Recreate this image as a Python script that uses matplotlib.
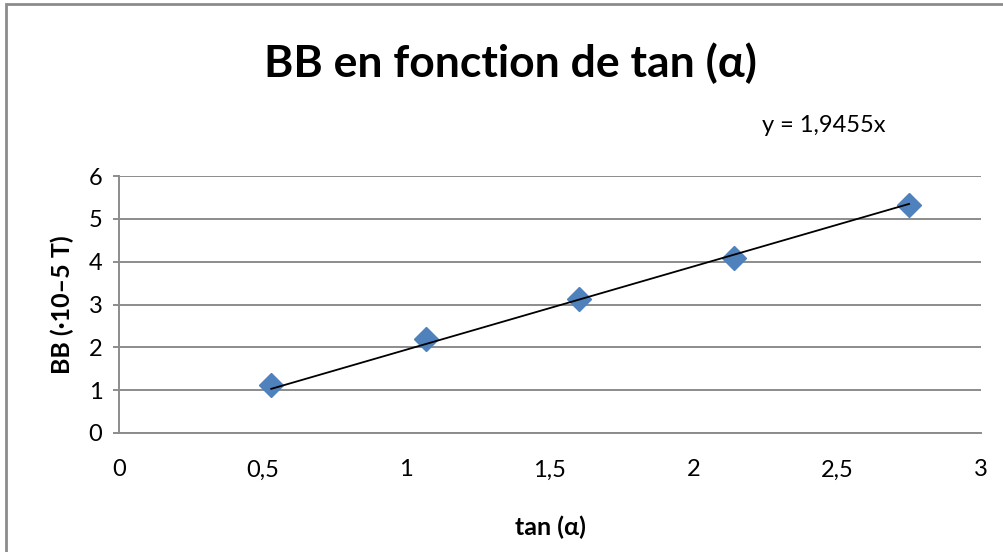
import matplotlib.pyplot as plt
import numpy as np
from matplotlib.patches import Rectangle
from matplotlib.ticker import FuncFormatter, MultipleLocator

# data
tan_alpha = [0.53, 1.07, 1.6, 2.14, 2.75]
bb = [1.11, 2.2, 3.14, 4.08, 5.33]
slope = 1.9455

plt.rcParams['font.family'] = ['Lato', 'DejaVu Sans']

fig = plt.figure(figsize=(10.04, 5.52), dpi=100)
ax = fig.add_axes([0.1185, 0.2156, 0.8585, 0.4654])

grid_col = '#8c8c8c'
ax.plot(tan_alpha, bb, linestyle='none', marker='D', markersize=12,
        color='#4F81BD', zorder=3)
x_fit = np.array([tan_alpha[0], tan_alpha[-1]])
ax.plot(x_fit, slope * x_fit, color='black', lw=1.3, zorder=4)

ax.set_xlim(0, 3)
ax.set_ylim(0, 6)
ax.xaxis.set_major_locator(MultipleLocator(0.5))
ax.yaxis.set_major_locator(MultipleLocator(1))
comma = FuncFormatter(lambda v, _: ('%g' % v).replace('.', ','))
ax.xaxis.set_major_formatter(comma)
ax.yaxis.set_major_formatter(comma)

ax.grid(axis='y', color=grid_col, lw=1.4)
ax.set_axisbelow(True)
for s in ['top', 'right']:
    ax.spines[s].set_visible(False)
for s in ['left', 'bottom']:
    ax.spines[s].set_color(grid_col)
    ax.spines[s].set_linewidth(1.4)
ax.tick_params(axis='y', length=4, color=grid_col, width=1.4, labelsize=17, pad=8)
ax.tick_params(axis='x', length=0, labelsize=17, pad=19)

ax.set_xlabel('tan (α)', fontsize=18, fontweight='bold', labelpad=25)
ax.set_ylabel('BB (·10–5 T)', fontsize=18, fontweight='bold', labelpad=10)

fig.text(0.508, 0.885, 'BB en fonction de tan (α)', ha='center', va='center',
         fontsize=32, fontweight='bold')
fig.text(0.759, 0.773, 'y = 1,9455x', ha='left', va='center', fontsize=17)

fig.patches.append(Rectangle((6 / 1004, -0.05), 1.1, 1 - 4 / 552 + 0.05,
                             transform=fig.transFigure, fill=False,
                             edgecolor='#8c8c8c', lw=2))

fig.savefig('out.png', dpi=100)
